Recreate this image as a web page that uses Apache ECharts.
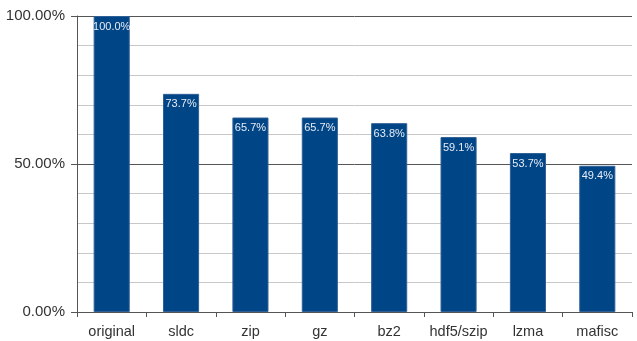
<!DOCTYPE html>
<html>
<head>
<meta charset="utf-8">
<script src="https://cdn.jsdelivr.net/npm/echarts@6/dist/echarts.min.js"></script>
<style>
  html, body { margin: 0; padding: 0; background: #fff; }
  #chart { width: 637px; height: 341px; }
</style>
</head>
<body>
<div id="chart"></div>
<script>
// compression ratio per method (percent of original size)
var categories = ['original', 'sldc', 'zip', 'gz', 'bz2', 'hdf5/szip', 'lzma', 'mafisc']
var ratios = [100.0, 73.7, 65.7, 65.7, 63.8, 59.1, 53.7, 49.4]

var chart = echarts.init(document.getElementById('chart'))
chart.setOption({
  animation: false,
  backgroundColor: '#fff',
  grid: { left: 77, right: 5, top: 16, bottom: 29 },
  xAxis: {
    type: 'category',
    data: categories,
    axisLine: { lineStyle: { color: '#555', width: 1 } },
    axisTick: { show: true, length: 5, lineStyle: { color: '#555' } },
    axisLabel: { interval: 0, color: '#333', fontSize: 14.5, fontFamily: 'Liberation Sans', margin: 12 }
  },
  yAxis: {
    type: 'value',
    min: 0,
    max: 100,
    interval: 50,
    axisLine: { show: true, lineStyle: { color: '#555', width: 1 } },
    axisTick: { show: true, length: 6, lineStyle: { color: '#555' } },
    axisLabel: {
      color: '#333', fontSize: 15, fontFamily: 'Liberation Sans', margin: 12,
      formatter: function (v) { return v.toFixed(2) + '%' }
    },
    splitLine: { lineStyle: { color: '#555', width: 1 } },
    minorTick: { show: false, splitNumber: 5 },
    minorSplitLine: { show: true, lineStyle: { color: '#c8c8c8', width: 1 } }
  },
  series: [{
    type: 'bar',
    data: ratios,
    barWidth: '52%',
    itemStyle: { color: '#004586', borderColor: '#2f5f96', borderWidth: 1 },
    label: {
      show: true,
      position: 'insideTop',
      distance: 5,
      color: '#e8ecf4',
      fontSize: 11,
      fontFamily: 'Liberation Sans',
      formatter: function (p) { return p.value.toFixed(1) + '%' }
    }
  }]
})
</script>
</body>
</html>
